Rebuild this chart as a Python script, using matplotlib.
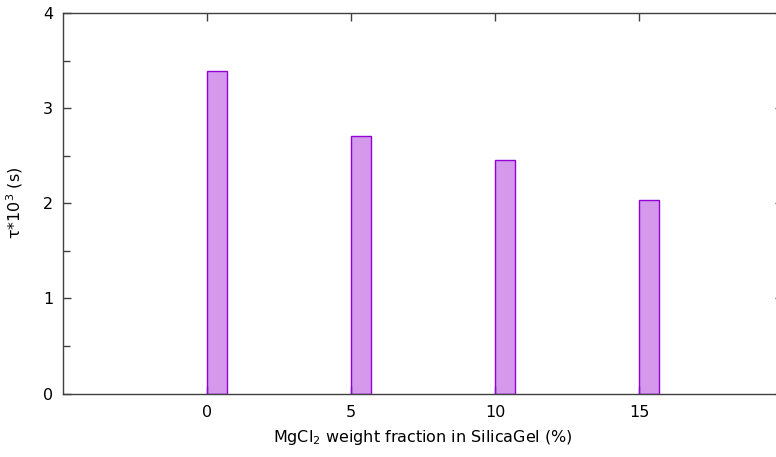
import matplotlib
matplotlib.use("Agg")
import matplotlib.pyplot as plt
from matplotlib.ticker import MultipleLocator

fractions = [0, 5, 10, 15]
tau = [3.39, 2.71, 2.45, 2.03]
xtick_labels = ["0", "5", "10", "15"]

W, H = 776, 457
fig = plt.figure(figsize=(W / 100, H / 100), dpi=100)
left, right, bottom, top = 63, 783, 393.5, 13
ax = fig.add_axes([left / W, (H - bottom) / H, (right - left) / W, (bottom - top) / H])

ax.bar(fractions, tau, width=0.71, align="edge", color="#9400d3", alpha=0.4,
       edgecolor="none", zorder=2)
ax.bar(fractions, tau, width=0.71, align="edge", fill=False, edgecolor="#9400d3",
       linewidth=1.0, zorder=3)

ax.set_xlim(-5, 20)
ax.set_ylim(0, 4)
ax.set_xticks(fractions)
ax.set_xticklabels(xtick_labels)
ax.set_yticks([0, 1, 2, 3, 4])
ax.yaxis.set_minor_locator(MultipleLocator(0.5))

for s in ax.spines.values():
    s.set_color("#404040")
    s.set_linewidth(1.0)

ax.tick_params(axis="both", which="both", direction="in", color="#404040",
               labelsize=11.5, labelcolor="black", width=1.0)
ax.tick_params(axis="x", which="both", top=True, bottom=True, pad=8, length=6)
ax.tick_params(axis="y", which="major", left=True, right=True, length=6, pad=7)
ax.tick_params(axis="y", which="minor", left=True, right=True, length=5)

ax.set_xlabel("MgCl$_2$ weight fraction in SilicaGel (%)", fontsize=11.5, labelpad=6)
ax.set_ylabel("τ*10$^3$ (s)", fontsize=11.5, labelpad=13)

fig.savefig("out.png", dpi=100)
